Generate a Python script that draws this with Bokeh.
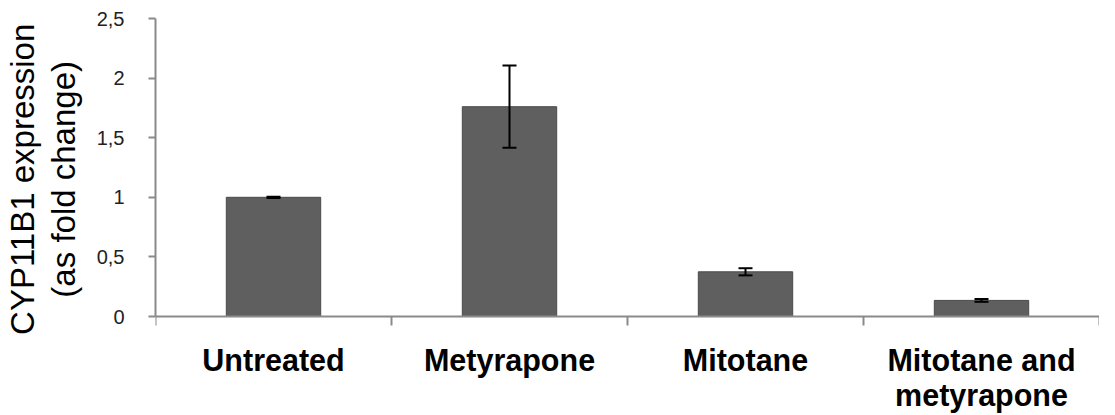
import math
from bokeh.plotting import figure
from bokeh.models import ColumnDataSource, Whisker, FixedTicker, CustomJSTickFormatter, Range1d, TeeHead, Span
from bokeh.core.properties import value
from bokeh.embed import file_html
from bokeh.resources import INLINE

categories = ["Untreated", "Metyrapone", "Mitotane", "Mitotane and metyrapone"]
label_text = ["Untreated", "Metyrapone", "Mitotane", "Mitotane and\nmetyrapone"]
values = [1.0, 1.76, 0.375, 0.135]
errors = [0.005, 0.345, 0.03, 0.012]
y_ticks = [0, 0.5, 1, 1.5, 2, 2.5]

xs = [i + 0.5 for i in range(len(categories))]
bounds_x = list(range(len(categories) + 1))
src = ColumnDataSource(dict(
    x=xs, top=values, base=[0] * len(xs), label=label_text,
    upper=[v + e for v, e in zip(values, errors)],
    lower=[v - e for v, e in zip(values, errors)],
))

H, TOP = 413, 18
FRAME_0 = 298  # px from 2.5 down to 0
y_low = 2.5 - (H - TOP) * 2.5 / FRAME_0

p = figure(width=1099, height=H, output_backend="svg", toolbar_location=None,
           x_range=Range1d(0, len(categories)), y_range=Range1d(y_low, 2.5),
           x_axis_location=None,
           min_border_left=144, min_border_right=0, min_border_top=TOP, min_border_bottom=0)
p.outline_line_color = None
p.grid.visible = False
p.background_fill_color = "white"

axis_color = "#8a8a8a"

p.vbar(x="x", top="top", width=0.4, bottom=0, source=src,
       fill_color="#5f5f5f", line_color="#4a4a4a", line_width=1)

# x axis line and category boundary ticks
p.add_layout(Span(location=0, dimension="width", line_color=axis_color, line_width=2))
p.ray(x=bounds_x, y=[0] * len(bounds_x), length=9, length_units="screen",
      angle=-math.pi / 2, line_color=axis_color, line_width=2)

w = Whisker(base="x", upper="upper", lower="lower", source=src, dimension="height",
            line_color="black", line_width=2, level="overlay")
w.upper_head = TeeHead(size=14, line_color="black", line_width=2)
w.lower_head = TeeHead(size=14, line_color="black", line_width=2)
p.add_layout(w)

# category labels
p.text(x="x", y="base", text="label", source=src, y_offset=26,
       text_align="center", text_baseline="top",
       text_font=value("Liberation Sans"), text_font_style="bold",
       text_font_size="30.5px", text_line_height=1.05, text_color="black")

ya = p.yaxis[0]
ya.bounds = (0, 2.5)
ya.ticker = FixedTicker(ticks=y_ticks, minor_ticks=[])
ya.formatter = CustomJSTickFormatter(code="return tick.toString().replace('.', ',');")
ya.major_tick_out = 7
ya.major_tick_in = 0
ya.major_tick_line_color = axis_color
ya.major_tick_line_width = 2
ya.axis_line_color = axis_color
ya.axis_line_width = 2
ya.major_label_text_font = "Liberation Sans"
ya.major_label_text_font_size = "20px"
ya.major_label_text_color = "#222222"
ya.major_label_standoff = 24
pad = "\u00a0" * 8
ya.axis_label = pad + "CYP11B1 expression\n" + pad + "(as fold change)"
ya.axis_label_text_font = "Liberation Sans"
ya.axis_label_text_font_style = "normal"
ya.axis_label_text_font_size = "33px"
ya.axis_label_text_line_height = 1.1
ya.axis_label_text_color = "black"
ya.axis_label_standoff = 12

open("out.html", "w").write(file_html(p, INLINE))
